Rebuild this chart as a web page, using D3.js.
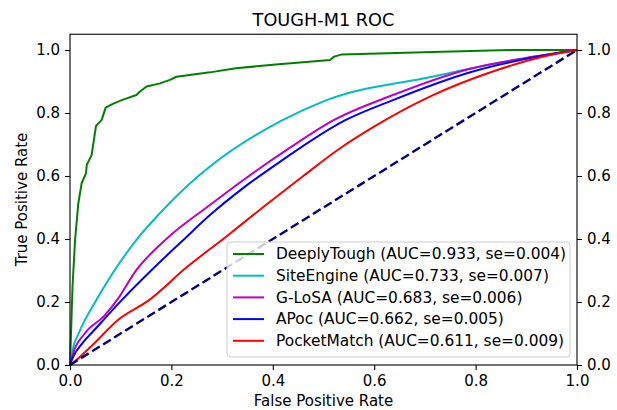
<!DOCTYPE html>
<html>
<head>
<meta charset="utf-8">
<script src="https://cdn.jsdelivr.net/npm/d3@7/dist/d3.min.js"></script>
<style>
body { margin:0; background:white; }
text { font-family: "DejaVu Sans", sans-serif; fill:#000; }
</style>
</head>
<body>
<script>
// ROC curves (fpr, tpr pairs)
var deeplyFpr = [0,0.002,0.005,0.01,0.0164,0.023,0.0316,0.033,0.0427,0.0513,0.0625,0.0703,0.0855,0.102,0.131,0.138,0.151,0.1775,0.197,0.21,0.276,0.327,0.4,0.513,0.521,0.536,0.715,0.87,1]
var deeplyTpr = [0,0.1,0.25,0.397,0.513,0.577,0.609,0.635,0.667,0.759,0.778,0.817,0.83,0.841,0.857,0.868,0.884,0.894,0.905,0.915,0.929,0.942,0.953,0.968,0.979,0.986,0.994,1,1]

var siteFpr = [0,0.005,0.017,0.052,0.131,0.1775,0.237,0.276,0.42,0.506,0.714,0.85,1]
var siteTpr = [0,0.048,0.1,0.206,0.397,0.482,0.577,0.63,0.778,0.841,0.915,0.96,1]

var glosaFpr = [0,0.005,0.029,0.067,0.0945,0.128,0.19,0.276,0.34,0.434,0.521,0.637,0.793,0.9,1]
var glosaTpr = [0,0.032,0.1,0.155,0.21,0.295,0.4,0.508,0.585,0.69,0.778,0.857,0.942,0.975,1]

var apocFpr = [0,0.005,0.025,0.048,0.102,0.16,0.2235,0.276,0.34,0.414,0.544,0.637,0.793,0.9,1]
var apocTpr = [0,0.022,0.07,0.111,0.206,0.3,0.397,0.476,0.56,0.645,0.778,0.841,0.931,0.972,1]

var pmFpr = [0,0.009,0.048,0.0945,0.156,0.23,0.306,0.38,0.46,0.53,0.598,0.714,0.831,0.947,1]
var pmTpr = [0,0.011,0.069,0.143,0.206,0.31,0.405,0.5,0.6,0.685,0.755,0.855,0.93,0.984,1]

var names = ["DeeplyTough (AUC=0.933, se=0.004)","SiteEngine (AUC=0.733, se=0.007)","G-LoSA (AUC=0.683, se=0.006)","APoc (AUC=0.662, se=0.005)","PocketMatch (AUC=0.611, se=0.009)"]
var colors = ["#008000","#00bfbf","#bf00bf","#0000ff","#ff0000"]
var tickVals = [0,0.2,0.4,0.6,0.8,1.0]

var series = [[deeplyFpr,deeplyTpr],[siteFpr,siteTpr],[glosaFpr,glosaTpr],[apocFpr,apocTpr],[pmFpr,pmTpr]]

var svg = d3.select("body").append("svg")
    .attr("width",617)
    .attr("height",410)
    .style("background-color","white")

var x = d3.scaleLinear().domain([0,1]).range([70,577])
var y = d3.scaleLinear().domain([0,1.05]).range([365,34.25])

var line = d3.line()
    .x(function(d){ return x(d[0]) })
    .y(function(d){ return y(d[1]) })
var smooth = d3.line()
    .x(function(d){ return x(d[0]) })
    .y(function(d){ return y(d[1]) })
    .curve(d3.curveMonotoneX)

for(i=0;i<series.length;i++){
    var pts = []
    for(j=0;j<series[i][0].length;j++){
        pts.push([series[i][0][j],series[i][1][j]])
    }
    svg.append("path")
        .attr("d",i==0 ? line(pts) : smooth(pts))
        .attr("fill","none")
        .attr("stroke",colors[i])
        .attr("stroke-width",2)
        .attr("stroke-linejoin","round")
}

// chance diagonal
svg.append("path")
    .attr("d",line([[0,0],[1,1]]))
    .attr("fill","none")
    .attr("stroke","#000080")
    .attr("stroke-width",2.4)
    .attr("stroke-dasharray","9,4")

// axes
var bottom = d3.axisBottom(x).tickValues(tickVals).tickFormat(d3.format(".1f")).tickSize(5).tickPadding(5)
var left = d3.axisLeft(y).tickValues(tickVals).tickFormat(d3.format(".1f")).tickSize(5).tickPadding(5)
var right = d3.axisRight(y).tickValues(tickVals).tickFormat(d3.format(".1f")).tickSize(5).tickPadding(5)

var gb = svg.append("g").attr("transform","translate(0,365)").call(bottom)
var gl = svg.append("g").attr("transform","translate(70,0)").call(left)
var gr = svg.append("g").attr("transform","translate(577,0)").call(right)
var gs = [gb,gl,gr]
for(i=0;i<gs.length;i++){
    gs[i].select(".domain").remove()
    gs[i].selectAll("line").attr("stroke","#000").attr("stroke-width",1.1)
    gs[i].selectAll("text").style("font-size","15px").style("font-family","DejaVu Sans")
}

svg.append("rect")
    .attr("x",70).attr("y",34.25)
    .attr("width",507).attr("height",330.75)
    .attr("fill","none")
    .attr("stroke","#000")
    .attr("stroke-width",1.1)

// legend
var lg = svg.append("g")
lg.append("rect")
    .attr("x",227).attr("y",242)
    .attr("width",343).attr("height",115)
    .attr("rx",3)
    .attr("fill","white")
    .attr("fill-opacity",0.8)
    .attr("stroke","#cccccc")
    .attr("stroke-width",1)
for(i=0;i<names.length;i++){
    var ry = 254 + i*21.7
    lg.append("line")
        .attr("x1",233).attr("x2",264)
        .attr("y1",ry).attr("y2",ry)
        .attr("stroke",colors[i])
        .attr("stroke-width",2)
    lg.append("text")
        .attr("x",276).attr("y",ry)
        .attr("dy","0.35em")
        .style("font-size","15.4px")
        .text(names[i])
}

svg.append("text")
    .attr("x",323.5).attr("y",26)
    .attr("text-anchor","middle")
    .style("font-size","17.7px")
    .text("TOUGH-M1 ROC")

svg.append("text")
    .attr("x",323.5).attr("y",406)
    .attr("text-anchor","middle")
    .style("font-size","15px")
    .text("False Positive Rate")

svg.append("text")
    .attr("transform","translate(27,199.5) rotate(-90)")
    .attr("text-anchor","middle")
    .style("font-size","15px")
    .text("True Positive Rate")
</script>
</body>
</html>
